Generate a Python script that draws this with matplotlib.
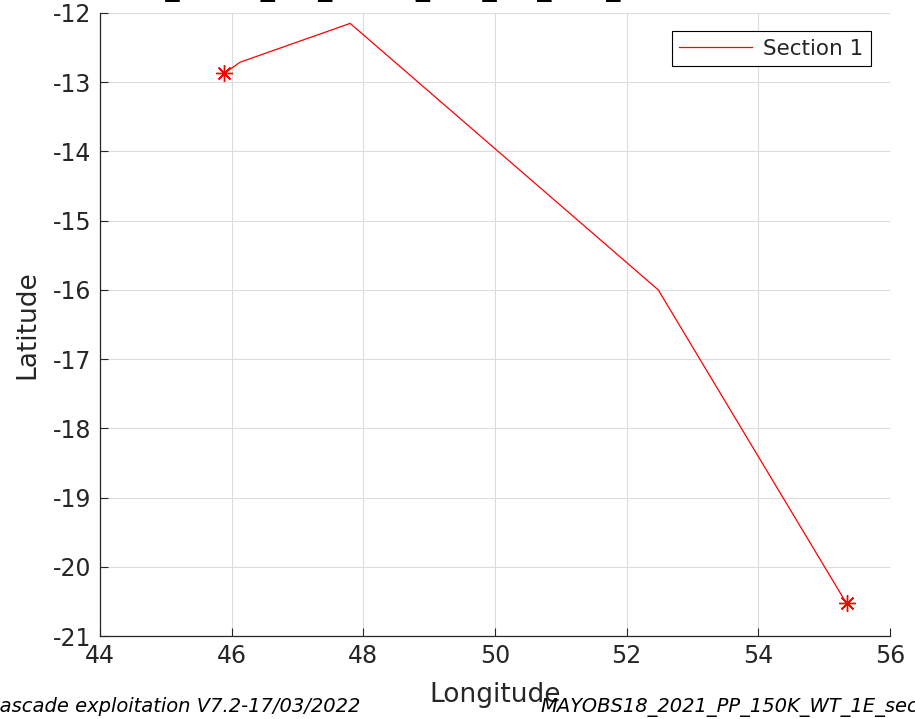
import numpy as np
import matplotlib
matplotlib.use('Agg')
import matplotlib.pyplot as plt

# section track (longitude / latitude)
lon = [45.89, 46.13, 47.80, 52.48, 55.34]
lat = [-12.87, -12.71, -12.15, -16.00, -20.53]
xticks = [44, 46, 48, 50, 52, 54, 56]
yticks = [-21, -20, -19, -18, -17, -16, -15, -14, -13, -12]

txt_col = '#262626'
plt.rcParams['font.family'] = 'DejaVu Sans'
plt.rcParams['axes.unicode_minus'] = False

fig = plt.figure(figsize=(9.15, 7.19), dpi=100)
ax = fig.add_axes([100/915, 83/719, 790/915, 623/719])

ax.plot(lon, lat, '-', color='red', lw=0.9, label='Section 1')
ax.plot([lon[0], lon[-1]], [lat[0], lat[-1]], ls='none', marker=(8, 2, 0),
        ms=12, mew=1.0, color='red')

ax.set_xlim(44, 56)
ax.set_ylim(-21, -12)
ax.set_xticks(xticks)
ax.set_yticks(yticks)
ax.grid(True, color='#dcdcdc', lw=0.8)
ax.set_axisbelow(True)
for s in ['top', 'right']:
    ax.spines[s].set_visible(False)
for s in ['left', 'bottom']:
    ax.spines[s].set_color(txt_col)
    ax.spines[s].set_linewidth(0.9)
ax.tick_params(direction='in', length=6, colors=txt_col, labelsize=17, pad=6)
ax.set_xlabel('Longitude', fontsize=19, color=txt_col, labelpad=10)
ax.set_ylabel('Latitude', fontsize=19, color=txt_col, labelpad=9)

leg = ax.legend(loc='upper right', bbox_to_anchor=(0.976, 0.971), borderaxespad=0,
                fontsize=15.5, fancybox=False, edgecolor='black', handlelength=3.4,
                handletextpad=0.5, borderpad=0.35, framealpha=1)
leg.get_frame().set_linewidth(0.8)
for t in leg.get_texts():
    t.set_color(txt_col)

# title cut off at the top of the figure
fig.text(-12/915, 1.0065, 'MAYOBS18_2021_PP_150K_WT_1E_sec_NAVIRE', fontsize=21,
         fontweight='bold', ha='left', va='baseline', color='black')

fig.text(-13.5/915, 7/719, 'Cascade exploitation V7.2-17/03/2022', fontsize=14,
         style='italic', ha='left', va='baseline', color='black')
fig.text(540/915, 7/719, 'MAYOBS18_2021_PP_150K_WT_1E_sec1_nav.png', fontsize=14,
         style='italic', ha='left', va='baseline', color='black')

fig.savefig('out.png', dpi=100)
